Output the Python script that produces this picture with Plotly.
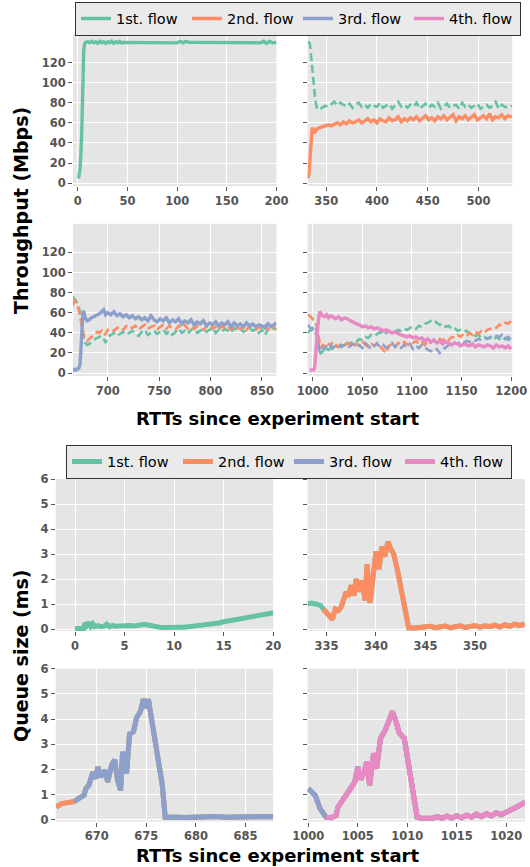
import plotly.graph_objects as go

# ---------------- DATA ----------------
FLOWS = ["1st. flow", "2nd. flow", "3rd. flow", "4th. flow"]
COLORS = ["#66c2a5", "#fc8d62", "#8da0cb", "#e78ac3"]

# Throughput, window 1 (flow 1 alone)
tp1_x = [0, 1, 2, 3, 4, 5, 6, 7, 8, 10, 12, 14, 16, 18, 20, 22, 24, 26, 28, 30,
         32, 34, 36, 38, 40, 42, 44, 46, 50, 60, 70, 80, 90, 95, 100, 103, 106, 109, 112, 120,
         130, 140, 150, 160, 170, 180, 184, 187, 190, 193, 196, 200]
tp1_f1 = [5, 6, 12, 25, 50, 100, 132, 139, 140, 140.5, 139.5, 141, 139.5, 140.5, 139, 141, 139.5, 140.5, 139, 140.5,
          139.5, 141, 139, 140.5, 139.5, 141, 139.5, 140, 140, 140, 140, 140, 140, 140, 139.5, 141, 139.5, 141, 140, 140,
          140, 140, 140, 140, 140, 140, 139.5, 141, 139, 141, 139.5, 140]

# Throughput, window 2 (flow 2 joins)
tp2_x = [332, 333, 334, 335, 336, 337, 338, 339, 340, 341,
         343, 346, 349, 352, 355, 358, 361, 364, 367, 370,
         373, 376, 379, 382, 385, 388, 391, 394, 397, 400,
         403, 406, 409, 412, 415, 418, 421, 424, 427, 430,
         433, 436, 439, 442, 445, 448, 451, 454, 457, 460,
         463, 466, 469, 472, 475, 478, 481, 484, 487, 490,
         493, 496, 499, 502, 505, 508, 511, 514, 517, 520,
         523, 526, 529, 533]
tp2_f1 = [140, 140, 138, 127, 114, 103, 94, 86, 79, 74,
          73, 75, 77, 76, 79, 81, 77, 80, 78, 76,
          79, 75, 78, 80, 76, 78, 75, 79, 77, 76,
          80, 75, 77, 79, 74, 78, 81, 76, 78, 75,
          78, 76, 80, 74, 77, 79, 75, 78, 76, 80,
          74, 77, 79, 75, 77, 78, 74, 80, 76, 78,
          75, 77, 79, 74, 76, 78, 75, 77, 81, 74,
          78, 76, 75, 77]
tp2_f2 = [5, 9, 22, 42, 53, 55, 50, 51, 53, 54,
          55, 56, 57, 58, 57, 59, 60, 58, 61, 59,
          62, 60, 61, 63, 60, 62, 64, 61, 63, 60,
          64, 62, 61, 65, 62, 63, 66, 61, 64, 62,
          65, 63, 66, 62, 64, 67, 63, 65, 62, 66,
          64, 67, 63, 65, 68, 62, 66, 64, 67, 63,
          66, 68, 63, 65, 67, 64, 69, 63, 66, 65,
          68, 64, 67, 66]

# Throughput, window 3 (flow 3 joins)
tp3_x = [666, 667, 668, 669, 670, 671, 672, 673, 674, 675,
         676, 677, 678, 680, 682, 684, 686, 688, 690, 692,
         694, 696, 698, 700, 703, 706, 709, 712, 715, 718,
         721, 724, 727, 730, 733, 736, 739, 742, 745, 748,
         751, 754, 757, 760, 763, 766, 769, 772, 775, 778,
         781, 784, 787, 790, 793, 796, 799, 802, 805, 808,
         811, 814, 817, 820, 823, 826, 829, 832, 835, 838,
         841, 844, 847, 850, 853, 856, 859, 862, 864]
tp3_f1 = [76, 75, 74, 72, 70, 68, 65, 60, 52, 45,
          38, 33, 30, 28, 29, 31, 32, 34, 35, 36,
          37, 34, 30, 36, 38, 40, 37, 39, 41, 38,
          40, 42, 39, 37, 41, 43, 38, 40, 42, 39,
          41, 43, 39, 42, 38, 41, 44, 40, 42, 39,
          43, 45, 40, 42, 44, 41, 43, 45, 40, 43,
          41, 44, 42, 40, 45, 42, 44, 41, 43, 45,
          42, 44, 40, 43, 38, 44, 42, 45, 43]
tp3_f2 = [67, 70, 72, 71, 69, 66, 62, 58, 52, 46,
          40, 36, 33, 32, 34, 36, 38, 39, 41, 40,
          42, 38, 39, 43, 44, 42, 45, 46, 43, 47,
          44, 45, 47, 43, 46, 48, 44, 46, 47, 43,
          46, 48, 44, 47, 45, 43, 47, 45, 48, 44,
          46, 44, 47, 45, 43, 46, 48, 44, 46, 43,
          47, 44, 46, 43, 47, 45, 44, 46, 43, 47,
          45, 43, 46, 44, 47, 43, 45, 46, 43]
tp3_f3 = [5, 3, 3, 3, 4, 4, 5, 8, 25, 48,
          62, 60, 55, 52, 53, 55, 56, 57, 58, 59,
          61, 63, 58, 60, 58, 61, 57, 59, 56, 58,
          55, 57, 54, 56, 53, 55, 52, 57, 53, 51,
          54, 52, 55, 50, 53, 51, 54, 49, 52, 50,
          53, 48, 51, 49, 52, 47, 50, 48, 51, 47,
          50, 48, 51, 46, 50, 47, 49, 46, 50, 47,
          49, 46, 48, 47, 45, 49, 46, 48, 50]

# Throughput, window 4 (flow 4 joins)
tp4_x = [995, 997, 999, 1001, 1002, 1003, 1004, 1005, 1006, 1007,
         1008, 1009, 1010, 1012, 1014, 1016, 1018, 1020, 1023, 1026,
         1029, 1032, 1035, 1038, 1041, 1044, 1047, 1050, 1053, 1056,
         1059, 1062, 1065, 1068, 1071, 1074, 1077, 1080, 1083, 1086,
         1089, 1092, 1095, 1098, 1101, 1104, 1107, 1110, 1113, 1116,
         1119, 1122, 1125, 1128, 1131, 1134, 1137, 1140, 1143, 1146,
         1149, 1152, 1155, 1158, 1161, 1164, 1167, 1170, 1173, 1176,
         1179, 1182, 1185, 1188, 1191, 1194, 1197, 1200]
tp4_f1 = [40, 42, 44, 46, 47, 45, 42, 36, 28, 22,
          19, 20, 22, 21, 24, 23, 25, 24, 27, 26,
          28, 27, 30, 29, 32, 31, 34, 33, 36, 35,
          38, 37, 39, 41, 38, 40, 42, 39, 41, 43,
          42, 44, 43, 45, 46, 44, 47, 46, 49, 50,
          52, 53, 50, 48, 49, 46, 47, 44, 45, 42,
          43, 41, 42, 39, 40, 37, 38, 35, 36, 34,
          35, 33, 36, 34, 32, 35, 33, 34]
tp4_f2 = [58, 57, 55, 53, 52, 50, 47, 41, 33, 27,
          25, 26, 28, 27, 30, 29, 27, 31, 28, 26,
          29, 27, 30, 28, 26, 29, 27, 31, 28, 26,
          29, 27, 30, 26, 23, 20, 27, 29, 26, 30,
          28, 31, 29, 27, 30, 32, 29, 31, 28, 32,
          30, 33, 31, 34, 32, 35, 33, 36, 35, 38,
          36, 39, 37, 40, 38, 41, 39, 42, 40, 43,
          44, 46, 45, 48, 47, 50, 49, 52]
tp4_f3 = [48, 46, 43, 41, 42, 40, 38, 33, 27, 22,
          21, 23, 25, 24, 27, 26, 28, 25, 27, 29,
          26, 28, 25, 27, 29, 26, 28, 25, 30, 27,
          24, 27, 29, 26, 28, 25, 27, 30, 26, 28,
          25, 28, 26, 29, 24, 27, 25, 28, 26, 23,
          22, 21, 24, 20, 23, 26, 28, 27, 30, 29,
          31, 30, 32, 31, 33, 32, 34, 33, 35, 34,
          36, 35, 37, 36, 38, 34, 36, 33]
tp4_f4 = [None, 3, 3, 3, 6, 15, 30, 45, 56, 61,
          60, 58, 57, 56, 58, 55, 57, 56, 54, 56,
          53, 55, 54, 52, 50, 49, 48, 46, 47, 45,
          46, 44, 45, 43, 42, 43, 41, 40, 41, 39,
          38, 37, 36, 37, 35, 36, 34, 35, 32, 34,
          31, 33, 30, 32, 29, 31, 30, 28, 30, 29,
          27, 29, 28, 27, 29, 26, 28, 27, 26, 28,
          27, 25, 28, 26, 27, 25, 27, 24]

# Queue size (ms), window 1
q1_x = [0, 0.5, 0.9, 1.0, 1.2, 1.4, 1.6, 1.8, 2.0, 2.3,
        2.6, 3.0, 3.2, 3.5, 3.8, 4.0, 4.5, 5.0, 5.5, 6.0,
        6.5, 7.0, 7.5, 8.0, 8.5, 9.0, 9.5, 10.0, 10.5, 11.0,
        11.5, 12.0, 12.5, 13.0, 13.5, 14.0, 14.5, 15.0, 15.5, 16.0,
        16.5, 17.0, 17.5, 18.0, 18.5, 19.0, 19.5, 20.0]
q1_q = [0.03, 0.03, 0.03, 0.25, 0.15, 0.28, 0.12, 0.22, 0.1, 0.14,
        0.1, 0.13, 0.2, 0.1, 0.16, 0.12, 0.14, 0.12, 0.15, 0.13,
        0.18, 0.2, 0.16, 0.1, 0.08, 0.07, 0.06, 0.07, 0.08, 0.08,
        0.1, 0.12, 0.13, 0.16, 0.18, 0.22, 0.25, 0.3, 0.33, 0.36,
        0.4, 0.44, 0.47, 0.5, 0.54, 0.58, 0.62, 0.66]

# Queue size (ms), window 2
q2_x = [333.1, 333.5, 334.0, 334.4, 334.7, 335.0, 335.3, 335.6, 335.9, 336.2,
        336.5, 336.8, 337.0, 337.2, 337.5, 337.8, 338.0, 338.3, 338.6, 338.9,
        339.1, 339.4, 339.7, 340.0, 340.3, 340.6, 340.9, 341.2, 341.5, 341.8,
        342.2, 342.6, 343.0, 343.3, 344.0, 344.5, 345.0, 345.5, 346.0, 346.5,
        347.0, 347.5, 348.0, 348.5, 349.0, 349.5, 350.0, 350.5, 351.0, 351.5,
        352.0, 352.5, 353.0, 353.5, 354.0, 354.5, 355.0]
q2_q = [1.02, 1.05, 1.0, 0.95, 0.8, 0.65, 0.5, 0.4, 0.8, 0.75,
        0.9, 1.2, 1.5, 1.3, 1.75, 1.35, 2.0, 1.5, 1.95, 1.15,
        2.6, 1.05, 2.3, 3.1, 2.4, 3.3, 2.9, 3.5, 3.2, 3.0,
        2.3, 1.5, 0.6, 0.06, 0.05, 0.06, 0.08, 0.12, 0.06, 0.1,
        0.13, 0.06, 0.1, 0.14, 0.07, 0.12, 0.15, 0.08, 0.14, 0.1,
        0.16, 0.09, 0.18, 0.12, 0.2, 0.15, 0.22]

# Queue size (ms), window 3
q3_x = [665.9, 666.4, 667.0, 667.7, 668.2, 668.7, 668.9, 669.2, 669.6, 669.9,
        670.1, 670.4, 670.8, 671.1, 671.5, 671.8, 672.1, 672.4, 672.6, 673.0,
        673.3, 673.7, 674.0, 674.4, 674.7, 675.0, 675.2, 675.4, 676.0, 676.6,
        676.9, 677.5, 678.0, 679.0, 680.0, 681.0, 682.0, 683.0, 684.0, 685.0,
        686.0, 687.0, 687.8]
q3_q = [0.5, 0.63, 0.68, 0.72, 0.86, 0.97, 1.24, 1.37, 1.9, 1.64,
        2.1, 1.7, 1.97, 1.5, 2.18, 2.38, 1.57, 1.17, 2.7, 1.84,
        3.4, 3.5, 4.05, 4.3, 4.79, 4.45, 4.79, 4.3, 2.8, 1.4,
        0.1, 0.08, 0.1, 0.09, 0.11, 0.1, 0.13, 0.1, 0.12, 0.14,
        0.11, 0.13, 0.12]

# Queue size (ms), window 4
q4_x = [1000.0, 1000.7, 1001.2, 1001.8, 1002.3, 1002.8, 1003.0, 1003.4, 1003.7, 1004.2,
        1004.7, 1005.0, 1005.3, 1005.6, 1005.9, 1006.2, 1006.6, 1006.9, 1007.3, 1007.8,
        1008.1, 1008.5, 1008.8, 1009.2, 1009.7, 1010.2, 1010.7, 1011.0, 1011.5, 1012.0,
        1012.5, 1013.0, 1013.5, 1014.0, 1014.5, 1015.0, 1015.5, 1016.0, 1016.5, 1017.0,
        1017.5, 1018.0, 1018.5, 1019.0, 1019.5, 1020.0, 1020.5, 1021.0, 1021.5, 1021.9]
q4_q = [1.24, 0.97, 0.43, 0.1, 0.08, 0.17, 0.5, 0.75, 0.9, 1.17,
        1.5, 2.1, 1.6, 1.84, 2.3, 1.37, 2.64, 2.03, 3.24, 3.58,
        3.9, 4.3, 3.98, 3.44, 3.24, 1.9, 0.83, 0.1, 0.05, 0.06,
        0.05, 0.12, 0.06, 0.14, 0.07, 0.16, 0.08, 0.18, 0.1, 0.22,
        0.12, 0.24, 0.15, 0.28, 0.2, 0.3, 0.38, 0.5, 0.6, 0.7]

# first RTT at which each flow appears in the queue windows
q2_starts = [333.1, 334.7]
q3_starts = [665.9, 665.9, 667.7]
q4_starts = [1000.0, 1000.0, 1000.0, 1001.8]

tp_yticks = [0, 20, 40, 60, 80, 100, 120]
q_yticks = [0, 1, 2, 3, 4, 5, 6]
xticks = {
    1: [0, 50, 100, 150, 200], 2: [350, 400, 450, 500],
    3: [700, 750, 800, 850], 4: [1000, 1050, 1100, 1150, 1200],
    5: [0, 5, 10, 15, 20], 6: [335, 340, 345, 350],
    7: [670, 675, 680, 685], 8: [1000, 1005, 1010, 1015, 1020],
}

for a, b in [(tp1_x, tp1_f1), (tp2_x, tp2_f1), (tp2_x, tp2_f2), (tp3_x, tp3_f1), (tp3_x, tp3_f2),
             (tp3_x, tp3_f3), (tp4_x, tp4_f1), (tp4_x, tp4_f2), (tp4_x, tp4_f3), (tp4_x, tp4_f4),
             (q1_x, q1_q), (q2_x, q2_q), (q3_x, q3_q), (q4_x, q4_q)]:
    assert len(a) == len(b), (len(a), len(b))

# ---------------- LAYOUT ----------------
W, H = 530, 867
FONT = "DejaVu Sans"
BG = "#E5E5E5"
TICKC = "#555555"

# panel boxes in px: left, right, top, bottom
BOX = {
    1: (73, 276.5, 33.8, 186), 2: (307.6, 512.2, 33.8, 186),
    3: (73, 276.5, 223.8, 375.9), 4: (307.6, 512.2, 223.8, 375.9),
    5: (55.8, 273.2, 478.9, 631), 6: (307.6, 525, 478.9, 631),
    7: (55.8, 273.2, 668.7, 821.5), 8: (307.6, 525, 668.7, 821.5),
}
XR = {1: [-4.8, 200], 2: [331.7, 533.3], 3: [666.2, 864.2], 4: [994.9, 1201],
      5: [-1.94, 20], 6: [333.1, 355.04], 7: [665.86, 687.8], 8: [999.93, 1021.9]}
TP_YR = [-2.8, 148.5]
Q_YR = [-0.07, 6.005]

fig = go.Figure()


def ax_name(i, axis):
    return axis if i == 1 else f"{axis}{i}"


def add_line(i, x, y, color, width, dash, name, legend=None):
    fig.add_trace(go.Scatter(
        x=x, y=y, mode="lines", name=name,
        line=dict(color=color, width=width, dash=dash),
        showlegend=legend is not None, legend=legend if legend else "legend",
        xaxis=ax_name(i, "x"), yaxis=ax_name(i, "y"), hoverinfo="skip"))


SOLID_W, DASH_W, Q_W = 3.4, 2.6, 5
DASH = "8px,4px"

# throughput panels
add_line(1, tp1_x, tp1_f1, COLORS[0], SOLID_W, "solid", FLOWS[0], "legend")
add_line(2, tp2_x, tp2_f1, COLORS[0], DASH_W, DASH, FLOWS[0])
add_line(2, tp2_x, tp2_f2, COLORS[1], SOLID_W, "solid", FLOWS[1], "legend")
add_line(3, tp3_x, tp3_f1, COLORS[0], DASH_W, DASH, FLOWS[0])
add_line(3, tp3_x, tp3_f2, COLORS[1], DASH_W, DASH, FLOWS[1])
add_line(3, tp3_x, tp3_f3, COLORS[2], SOLID_W, "solid", FLOWS[2], "legend")
add_line(4, tp4_x, tp4_f1, COLORS[0], DASH_W, DASH, FLOWS[0])
add_line(4, tp4_x, tp4_f2, COLORS[1], DASH_W, DASH, FLOWS[1])
add_line(4, tp4_x, tp4_f3, COLORS[2], DASH_W, DASH, FLOWS[2])
add_line(4, tp4_x, tp4_f4, COLORS[3], SOLID_W, "solid", FLOWS[3], "legend")


def sub(xs, ys, start):
    pairs = [(a, b) for a, b in zip(xs, ys) if a >= start]
    return [p[0] for p in pairs], [p[1] for p in pairs]


# queue panels
add_line(5, q1_x, q1_q, COLORS[0], Q_W, "solid", FLOWS[0], "legend2")
for k, s in enumerate(q2_starts):
    xx, yy = sub(q2_x, q2_q, s)
    add_line(6, xx, yy, COLORS[k], Q_W, "solid", FLOWS[k], "legend2" if k == 1 else None)
for k, s in enumerate(q3_starts):
    xx, yy = sub(q3_x, q3_q, s)
    add_line(7, xx, yy, COLORS[k], Q_W, "solid", FLOWS[k], "legend2" if k == 2 else None)
for k, s in enumerate(q4_starts):
    xx, yy = sub(q4_x, q4_q, s)
    add_line(8, xx, yy, COLORS[k], Q_W, "solid", FLOWS[k], "legend2" if k == 3 else None)

tickfont = dict(family=FONT, size=11.5, color=TICKC, weight="bold")
lay = {}
for i, (l, r, t, b) in BOX.items():
    is_q = i >= 5
    left_col = i in (1, 3, 5, 7)
    lay[ax_name(i, "xaxis")] = dict(
        domain=[l / W, r / W], range=XR[i], anchor=ax_name(i, "y"),
        tickvals=xticks[i], showgrid=True, gridcolor="white", gridwidth=1,
        zeroline=False, showline=False, ticks="outside", ticklen=4,
        tickcolor=TICKC, tickwidth=1, tickfont=tickfont, fixedrange=True,
        automargin=False)
    lay[ax_name(i, "yaxis")] = dict(
        domain=[1 - b / H, 1 - t / H], range=Q_YR if is_q else TP_YR,
        anchor=ax_name(i, "x"), tickvals=q_yticks if is_q else tp_yticks,
        showticklabels=left_col, showgrid=True, gridcolor="white", gridwidth=1,
        zeroline=False, showline=False, ticks="outside", ticklen=4,
        tickcolor=TICKC, tickwidth=1, tickfont=tickfont, fixedrange=True,
        automargin=False)

legend_common = dict(
    orientation="h", xanchor="left", yanchor="middle",
    bgcolor="#EAEAEA", bordercolor="#333333", borderwidth=1,
    font=dict(family=FONT, size=14.5, color="black"),
    entrywidth=66, entrywidthmode="pixels", itemwidth=30, traceorder="normal")

title_font = dict(family=FONT, size=18, color="black", weight="bold")
ytitle_font = dict(family=FONT, size=19, color="black", weight="bold")
annotations = [
    dict(text="Throughput (Mbps)", x=21 / W, y=1 - 211 / H, textangle=-90, font=ytitle_font),
    dict(text="Queue size (ms)", x=21 / W, y=1 - 656 / H, textangle=-90, font=ytitle_font),
    dict(text="RTTs since experiment start", x=277 / W, y=1 - 418 / H, font=title_font),
    dict(text="RTTs since experiment start", x=277 / W, y=1 - 855 / H, font=title_font),
]
for a in annotations:
    a.update(xref="paper", yref="paper", showarrow=False, xanchor="center", yanchor="middle")

fig.update_layout(
    width=W, height=H, margin=dict(l=0, r=0, t=0, b=0, pad=0, autoexpand=False),
    paper_bgcolor="white", plot_bgcolor=BG,
    font=dict(family=FONT),
    legend=dict(x=75 / W, y=1 - 18.6 / H, **legend_common),
    legend2=dict(x=66 / W, y=1 - 461.5 / H, **legend_common),
    annotations=annotations,
    **lay,
)

fig.write_html("out.html", config={"displayModeBar": False})
